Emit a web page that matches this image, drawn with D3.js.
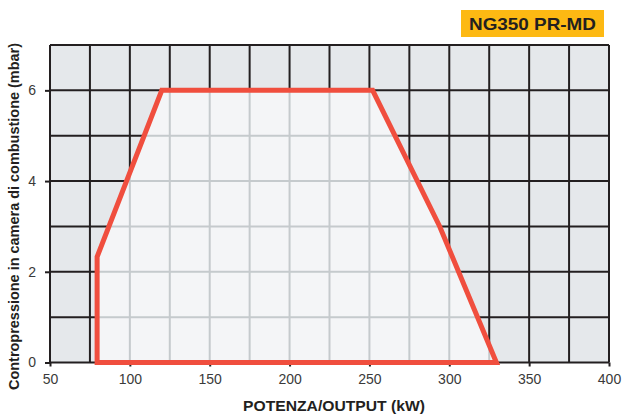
<!DOCTYPE html>
<html>
<head>
<meta charset="utf-8">
<script src="https://cdn.jsdelivr.net/npm/d3@7"></script>
<style>
  body { margin: 0; background: #fff; }
  text { font-family: "Liberation Sans", Arial, sans-serif; }
</style>
</head>
<body>
<div class="container"></div>
<script>
  var width = 624,
    height = 415;

  // envelope of the burner (kW, mbar)
  var outputKW = [79.5, 79.5, 120, 252, 294, 329.5];
  var backPressure = [0, 2.33, 6, 6, 3, 0];

  var xTicks = [50, 100, 150, 200, 250, 300, 350, 400];
  var yTicks = [0, 2, 4, 6];
  var xGrid = d3.range(50, 401, 25);
  var yGrid = d3.range(0, 8, 1);

  var title = "NG350 PR-MD";
  var xTitle = "POTENZA/OUTPUT (kW)";
  var yTitle = "Contropressione in camera di combustione (mbar)";

  var x = d3.scaleLinear().domain([50, 400]).range([50, 609]);
  var y = d3.scaleLinear().domain([0, 7]).range([362.5, 45]);

  var svg = d3.select(".container").append("svg")
    .attr("width", width)
    .attr("height", height);

  var pts = outputKW.map(function(d, i) { return [x(d), y(backPressure[i])]; });
  var line = d3.line();

  svg.append("clipPath").attr("id", "env")
    .append("path").attr("d", line(pts) + "Z");

  // outer plot background
  svg.append("rect")
    .attr("x", x(50)).attr("y", y(7))
    .attr("width", x(400) - x(50)).attr("height", y(0) - y(7))
    .attr("fill", "#e5e8eb");

  var grid = svg.append("g");
  grid.selectAll(".vx").data(xGrid).enter().append("line")
    .attr("x1", function(d) { return x(d); }).attr("x2", function(d) { return x(d); })
    .attr("y1", y(7)).attr("y2", y(0))
    .attr("stroke", "#231f20").attr("stroke-width", 2);
  grid.selectAll(".hy").data(yGrid).enter().append("line")
    .attr("y1", function(d) { return y(d); }).attr("y2", function(d) { return y(d); })
    .attr("x1", x(50)).attr("x2", x(400))
    .attr("stroke", "#231f20").attr("stroke-width", 2);

  // inside of the envelope: lighter fill, light grid
  var inside = svg.append("g").attr("clip-path", "url(#env)");
  inside.append("rect")
    .attr("x", x(50)).attr("y", y(7))
    .attr("width", x(400) - x(50)).attr("height", y(0) - y(7))
    .attr("fill", "#f4f5f7");
  inside.selectAll(".vx").data(xGrid).enter().append("line")
    .attr("x1", function(d) { return x(d); }).attr("x2", function(d) { return x(d); })
    .attr("y1", y(7)).attr("y2", y(0))
    .attr("stroke", "#c5cacd").attr("stroke-width", 2);
  inside.selectAll(".hy").data(yGrid).enter().append("line")
    .attr("y1", function(d) { return y(d); }).attr("y2", function(d) { return y(d); })
    .attr("x1", x(50)).attr("x2", x(400))
    .attr("stroke", "#c5cacd").attr("stroke-width", 2);

  // axes
  var xAxis = svg.append("g")
    .attr("transform", "translate(0," + y(0) + ")")
    .call(d3.axisBottom(x).tickValues(xTicks).tickSize(4).tickPadding(8).tickSizeOuter(0));
  var yAxis = svg.append("g")
    .attr("transform", "translate(" + x(50) + ",0)")
    .call(d3.axisLeft(y).tickValues(yTicks).tickFormat(d3.format("d")).tickSize(5).tickPadding(9).tickSizeOuter(0));
  [xAxis, yAxis].forEach(function(a) {
    a.select(".domain").remove();
    a.selectAll(".tick line").attr("stroke", "#231f20").attr("stroke-width", 2);
    a.selectAll(".tick text")
      .attr("fill", "#3a3a3a")
      .style("font-size", "14px")
      .style("font-family", "'Liberation Sans', Arial, sans-serif");
  });

  // envelope outline
  svg.append("path")
    .attr("d", line(pts) + "Z")
    .attr("fill", "none")
    .attr("stroke", "#f04e3e")
    .attr("stroke-width", 5)
    .attr("stroke-linejoin", "miter");

  // model label
  svg.append("rect")
    .attr("x", 461).attr("y", 10).attr("width", 143).attr("height", 27)
    .attr("fill", "#fdb913");
  svg.append("text")
    .attr("x", 469).attr("y", 30)
    .attr("fill", "#231f20")
    .attr("textLength", 127).attr("lengthAdjust", "spacingAndGlyphs")
    .style("font-size", "17px").style("font-weight", "bold")
    .text(title);

  svg.append("text")
    .attr("x", 243).attr("y", 411)
    .attr("fill", "#231f20")
    .attr("textLength", 182).attr("lengthAdjust", "spacingAndGlyphs")
    .style("font-size", "14px").style("font-weight", "bold")
    .text(xTitle);

  svg.append("text")
    .attr("transform", "translate(19,390) rotate(-90)")
    .attr("fill", "#231f20")
    .attr("textLength", 347).attr("lengthAdjust", "spacingAndGlyphs")
    .style("font-size", "14px").style("font-weight", "bold")
    .text(yTitle);
</script>
</body>
</html>
